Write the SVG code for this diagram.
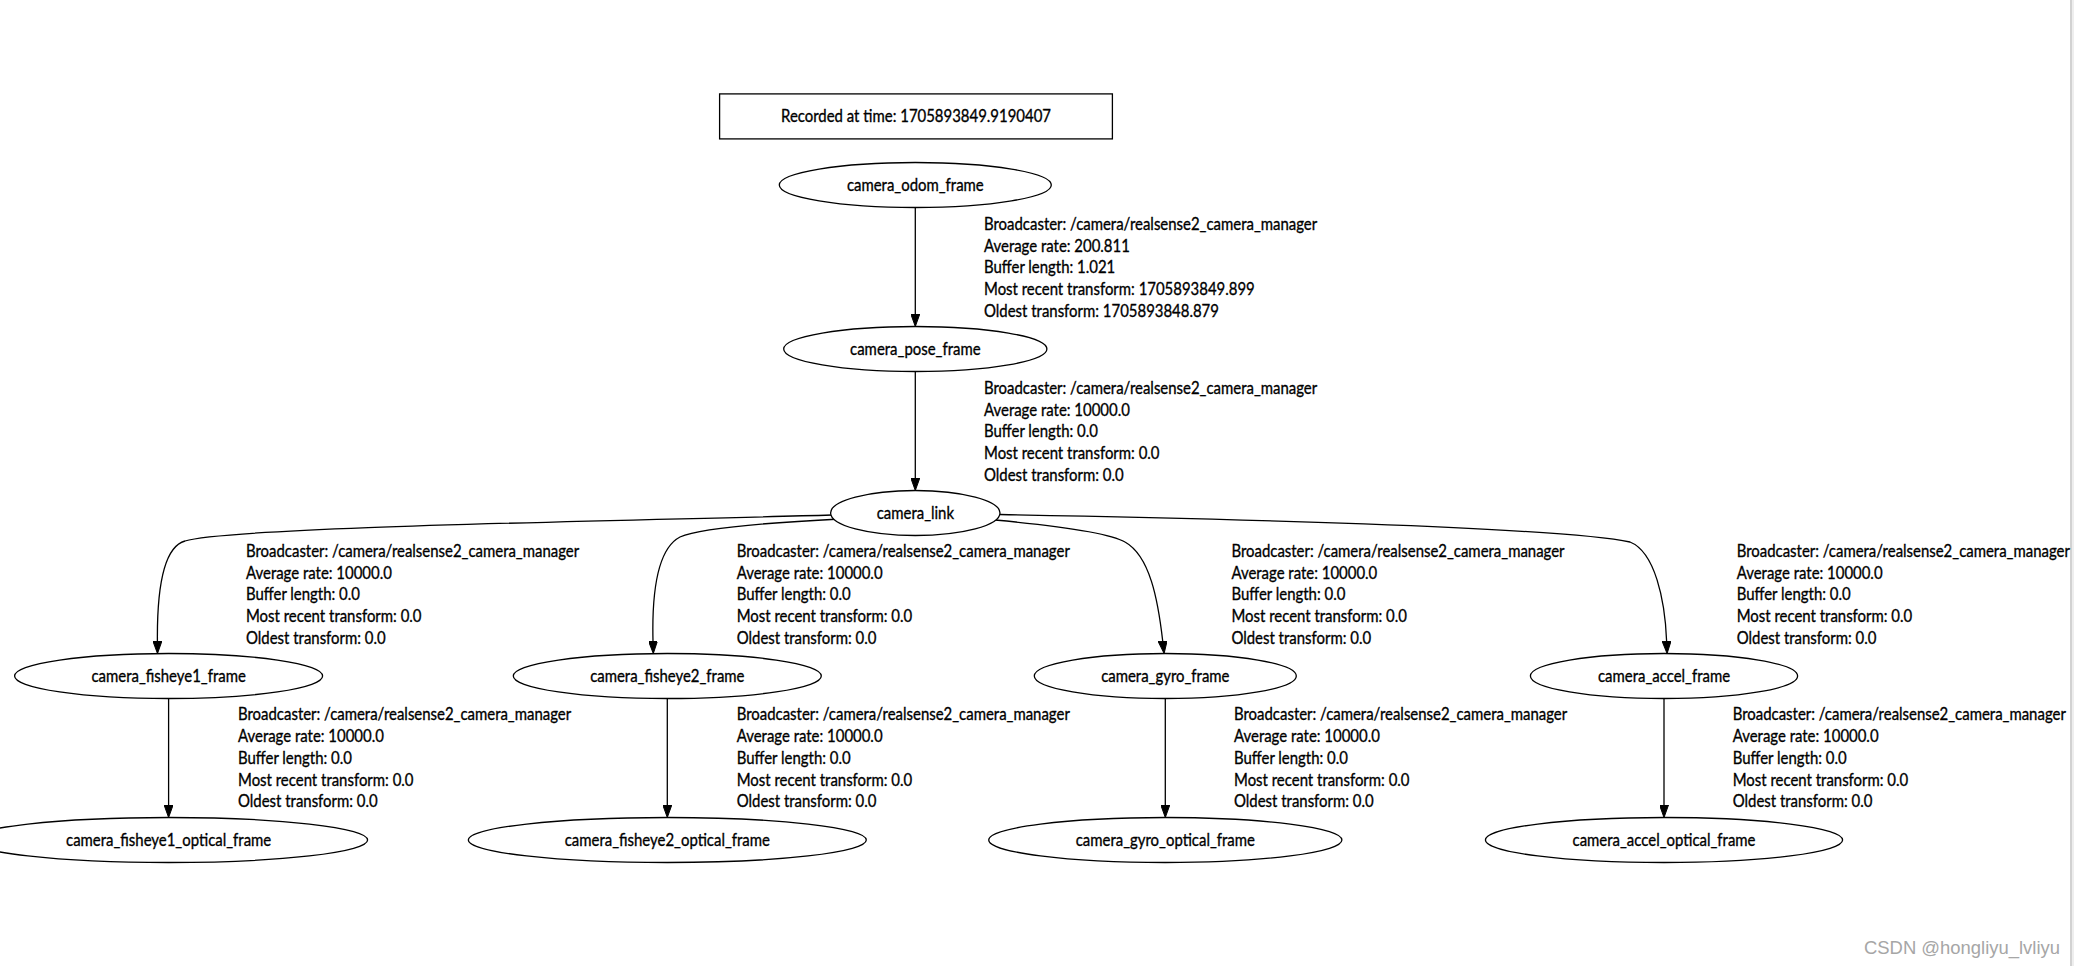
<svg xmlns="http://www.w3.org/2000/svg" width="2074" height="966" viewBox="0 0 2074 966">
<style>
text { font-family: Lato, "Liberation Sans", sans-serif; font-size: 18px; fill: #000; stroke: #000; stroke-width: 0.35; }
.l { transform-box: fill-box; transform-origin: left center; transform: scaleX(0.83); }
.c { text-anchor: middle; transform-box: fill-box; transform-origin: center; transform: scaleX(0.83); }
.n { fill: #fff; stroke: #000; stroke-width: 1.3; }
.e { fill: none; stroke: #000; stroke-width: 1.3; marker-end: url(#arr); }
.wm { font-family: "Liberation Sans", Arial, sans-serif; font-size: 18px; fill: #a6a6a6; stroke: none; }
</style>
<defs>
<marker id="arr" viewBox="0 0 12.5 9" refX="0" refY="4.5" markerUnits="userSpaceOnUse" markerWidth="12.5" markerHeight="9" orient="auto">
<path d="M0,0 L12.5,4.5 L0,9 z" fill="#000" stroke="#000" stroke-width="1"/>
</marker>
</defs>
<rect x="0" y="0" width="2074" height="966" fill="#fff"/>
<rect x="2072" y="0" width="2" height="966" fill="#eeeeee"/>
<line x1="2071" y1="0" x2="2071" y2="966" stroke="#b4b4b4" stroke-width="1.2"/>

<g id="connectors">
<path class="e" d="M915.3,207.5 L915.3,314"/>
<path class="e" d="M915.3,371.5 L915.3,478"/>
<path class="e" d="M832,515 C620,521 230,527 185,541 C163,547 157,590 157.4,641"/>
<path class="e" d="M840,519 C760,523 700,528 680,537 C655,550 652,600 653,641"/>
<path class="e" d="M995,520 C1060,526 1110,533 1125,542 C1150,556 1158,600 1162.7,641"/>
<path class="e" d="M1000,514.5 C1200,518 1560,527 1630,542 C1655,552 1665,600 1666.6,641"/>
<path class="e" d="M168.6,698.5 L168.6,805"/>
<path class="e" d="M667.3,698.5 L667.3,805"/>
<path class="e" d="M1165.3,698.5 L1165.3,805"/>
<path class="e" d="M1664,698.5 L1664,805"/>
</g>

<g id="edge-labels">
<text class="l" x="984" y="230"><tspan x="984">Broadcaster: /camera/realsense2_camera_manager</tspan><tspan x="984" dy="21.75">Average rate: 200.811</tspan><tspan x="984" dy="21.75">Buffer length: 1.021</tspan><tspan x="984" dy="21.75">Most recent transform: 1705893849.899</tspan><tspan x="984" dy="21.75">Oldest transform: 1705893848.879</tspan></text>
<text class="l" x="984" y="394"><tspan x="984">Broadcaster: /camera/realsense2_camera_manager</tspan><tspan x="984" dy="21.75">Average rate: 10000.0</tspan><tspan x="984" dy="21.75">Buffer length: 0.0</tspan><tspan x="984" dy="21.75">Most recent transform: 0.0</tspan><tspan x="984" dy="21.75">Oldest transform: 0.0</tspan></text>
<text class="l" x="246" y="557"><tspan x="246">Broadcaster: /camera/realsense2_camera_manager</tspan><tspan x="246" dy="21.75">Average rate: 10000.0</tspan><tspan x="246" dy="21.75">Buffer length: 0.0</tspan><tspan x="246" dy="21.75">Most recent transform: 0.0</tspan><tspan x="246" dy="21.75">Oldest transform: 0.0</tspan></text>
<text class="l" x="736.7" y="557"><tspan x="736.7">Broadcaster: /camera/realsense2_camera_manager</tspan><tspan x="736.7" dy="21.75">Average rate: 10000.0</tspan><tspan x="736.7" dy="21.75">Buffer length: 0.0</tspan><tspan x="736.7" dy="21.75">Most recent transform: 0.0</tspan><tspan x="736.7" dy="21.75">Oldest transform: 0.0</tspan></text>
<text class="l" x="1231.4" y="557"><tspan x="1231.4">Broadcaster: /camera/realsense2_camera_manager</tspan><tspan x="1231.4" dy="21.75">Average rate: 10000.0</tspan><tspan x="1231.4" dy="21.75">Buffer length: 0.0</tspan><tspan x="1231.4" dy="21.75">Most recent transform: 0.0</tspan><tspan x="1231.4" dy="21.75">Oldest transform: 0.0</tspan></text>
<text class="l" x="1736.7" y="557"><tspan x="1736.7">Broadcaster: /camera/realsense2_camera_manager</tspan><tspan x="1736.7" dy="21.75">Average rate: 10000.0</tspan><tspan x="1736.7" dy="21.75">Buffer length: 0.0</tspan><tspan x="1736.7" dy="21.75">Most recent transform: 0.0</tspan><tspan x="1736.7" dy="21.75">Oldest transform: 0.0</tspan></text>
<text class="l" x="238" y="720.5"><tspan x="238">Broadcaster: /camera/realsense2_camera_manager</tspan><tspan x="238" dy="21.75">Average rate: 10000.0</tspan><tspan x="238" dy="21.75">Buffer length: 0.0</tspan><tspan x="238" dy="21.75">Most recent transform: 0.0</tspan><tspan x="238" dy="21.75">Oldest transform: 0.0</tspan></text>
<text class="l" x="736.7" y="720.5"><tspan x="736.7">Broadcaster: /camera/realsense2_camera_manager</tspan><tspan x="736.7" dy="21.75">Average rate: 10000.0</tspan><tspan x="736.7" dy="21.75">Buffer length: 0.0</tspan><tspan x="736.7" dy="21.75">Most recent transform: 0.0</tspan><tspan x="736.7" dy="21.75">Oldest transform: 0.0</tspan></text>
<text class="l" x="1234" y="720.5"><tspan x="1234">Broadcaster: /camera/realsense2_camera_manager</tspan><tspan x="1234" dy="21.75">Average rate: 10000.0</tspan><tspan x="1234" dy="21.75">Buffer length: 0.0</tspan><tspan x="1234" dy="21.75">Most recent transform: 0.0</tspan><tspan x="1234" dy="21.75">Oldest transform: 0.0</tspan></text>
<text class="l" x="1732.7" y="720.5"><tspan x="1732.7">Broadcaster: /camera/realsense2_camera_manager</tspan><tspan x="1732.7" dy="21.75">Average rate: 10000.0</tspan><tspan x="1732.7" dy="21.75">Buffer length: 0.0</tspan><tspan x="1732.7" dy="21.75">Most recent transform: 0.0</tspan><tspan x="1732.7" dy="21.75">Oldest transform: 0.0</tspan></text>
</g>

<g id="recorded"><rect class="n" x="719.6" y="93.9" width="392.8" height="45"/><text class="c" x="916" y="122.5">Recorded at time: 1705893849.9190407</text></g>
<g id="camera_odom_frame"><ellipse class="n" cx="915.3" cy="185" rx="136" ry="22.5"/><text class="c" x="915.3" y="191.5">camera_odom_frame</text></g>
<g id="camera_pose_frame"><ellipse class="n" cx="915.3" cy="349" rx="131.6" ry="22.5"/><text class="c" x="915.3" y="355.5">camera_pose_frame</text></g>
<g id="camera_link"><ellipse class="n" cx="915.3" cy="513" rx="84.7" ry="22.5"/><text class="c" x="915.3" y="519.5">camera_link</text></g>
<g id="camera_fisheye1_frame"><ellipse class="n" cx="168.6" cy="676" rx="154" ry="22.5"/><text class="c" x="168.6" y="682.5">camera_fisheye1_frame</text></g>
<g id="camera_fisheye2_frame"><ellipse class="n" cx="667.3" cy="676" rx="154" ry="22.5"/><text class="c" x="667.3" y="682.5">camera_fisheye2_frame</text></g>
<g id="camera_gyro_frame"><ellipse class="n" cx="1165.3" cy="676" rx="131" ry="22.5"/><text class="c" x="1165.3" y="682.5">camera_gyro_frame</text></g>
<g id="camera_accel_frame"><ellipse class="n" cx="1664" cy="676" rx="133.6" ry="22.5"/><text class="c" x="1664" y="682.5">camera_accel_frame</text></g>
<g id="camera_fisheye1_optical_frame"><ellipse class="n" cx="168.6" cy="840" rx="199" ry="22.5"/><text class="c" x="168.6" y="846.5">camera_fisheye1_optical_frame</text></g>
<g id="camera_fisheye2_optical_frame"><ellipse class="n" cx="667.3" cy="840" rx="199" ry="22.5"/><text class="c" x="667.3" y="846.5">camera_fisheye2_optical_frame</text></g>
<g id="camera_gyro_optical_frame"><ellipse class="n" cx="1165.3" cy="840" rx="176.6" ry="22.5"/><text class="c" x="1165.3" y="846.5">camera_gyro_optical_frame</text></g>
<g id="camera_accel_optical_frame"><ellipse class="n" cx="1664" cy="840" rx="178.6" ry="22.5"/><text class="c" x="1664" y="846.5">camera_accel_optical_frame</text></g>

<text class="wm" x="1864" y="953.5" textLength="196" lengthAdjust="spacingAndGlyphs">CSDN @hongliyu_lvliyu</text>
</svg>
